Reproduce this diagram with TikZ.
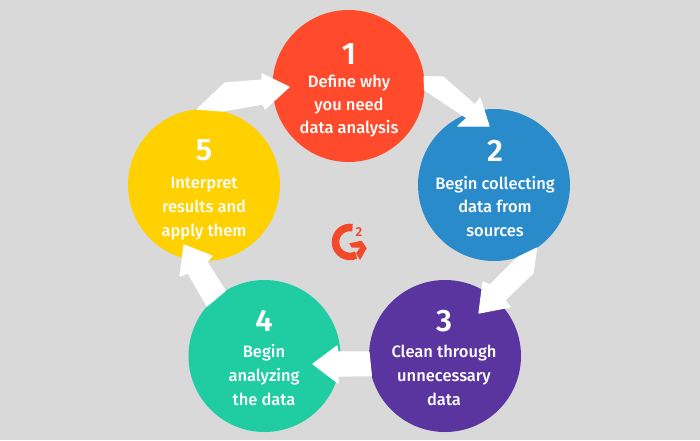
\documentclass[tikz,border=0pt]{standalone}
\usepackage{fontspec}
\setmainfont{Fira Sans}[UprightFont=* Medium,BoldFont=* SemiBold]
\definecolor{bg}{HTML}{D9D9D9}
\definecolor{cA}{HTML}{FF4B2B}
\definecolor{cB}{HTML}{2A8BCB}
\definecolor{cC}{HTML}{5A35A0}
\definecolor{cD}{HTML}{20CDA3}
\definecolor{cE}{HTML}{FFD100}
\definecolor{logo}{HTML}{F2492B}
\tikzset{
  disc/.style={circle,minimum size=152pt,inner sep=0pt,fill=#1},
  num/.style={anchor=base,text=white,font=\fontsize{31}{31}\selectfont\bfseries,inner sep=0pt},
  lbl/.style={anchor=base,text=white,font=\fontsize{16.5}{16.5}\selectfont,inner sep=0pt},
  blockarrow/.style={fill=white,line join=round,draw=white,line width=1.2pt}
}
\begin{document}
\begin{tikzpicture}[x=1pt,y=-1pt]
\path[use as bounding box,fill=bg] (0,0) rectangle (700,440);
\node[disc=cA] (c1) at (348.5,86) {};
\node[disc=cB] (c2) at (494,185) {};
\node[disc=cC] (c3) at (445,356) {};
\node[disc=cD] (c4) at (264.5,356) {};
\node[disc=cE] (c5) at (204,185) {};
% tips
\coordinate (tip1) at (289,87);
\coordinate (tip2) at (489,126);
\coordinate (tip3) at (479,313);
\coordinate (tip4) at (313,364);
\coordinate (tip5) at (184,245);
% block arrows: tail on the source circle, tip at a named coordinate
\draw[blockarrow] (c5.95) -- (225,83) -- (262,80) -- (262,74) -- (tip1) -- (265,109) -- (263,104) -- (c5.76) -- cycle;
\draw[blockarrow] (c1.7) -- (443,77) -- (475,105) -- (480,98) -- (tip2) -- (458,126) -- (467,118) -- (c1.-3) -- cycle;
\draw[blockarrow] (c2.-56) -- (533,273) -- (505,300) -- (510,307) -- (tip3) -- (483,282) -- (490,285) -- (c2.-72) -- cycle;
\draw[blockarrow] (c3.177) -- (c3.195) -- (338,376) -- (338,383) -- (tip4) -- (337,346) -- (338,352) -- cycle;
\draw[blockarrow] (c4.121.5) -- (c4.139) -- (188,273) -- (180,276) -- (tip5) -- (212,256) -- (207,262) -- cycle;
% labels
\node[num] (n1) at (349,64) {1};
\node[lbl] (a1) at (349,87) {Define why};
\node[lbl] (a2) at (349,110) {you need};
\node[lbl] (a3) at (349,133) {data analysis};
\node[num] (n2) at (495,161) {2};
\node[lbl] (b1) at (495,189) {Begin collecting};
\node[lbl] (b2) at (495,212) {data from};
\node[lbl] (b3) at (495,236) {sources};
\node[num] (n3) at (444,331) {3};
\node[lbl] (d1) at (444,357) {Clean through};
\node[lbl] (d2) at (444,381) {unnecessary};
\node[lbl] (d3) at (444,405) {data};
\node[num] (n4) at (264,331) {4};
\node[lbl] (e1) at (264,357) {Begin};
\node[lbl] (e2) at (264,381) {analyzing};
\node[lbl] (e3) at (264,405) {the data};
\node[num] (n5) at (204,160) {5};
\node[lbl] (f1) at (204,188) {Interpret};
\node[lbl] (f2) at (204,212) {results and};
\node[lbl] (f3) at (204,236) {apply them};
% logo
\draw[logo,line width=7.5pt] (352.5,227.7) arc[start angle=-80,end angle=-295,radius=14.5];
\fill[logo] (349.3,243.3) -- (361.7,240.7) -- (366.7,248.3) -- (360,260) -- (356,253.3) -- (360,247.7) -- (351.7,247.7) -- cycle;
\node[anchor=base,text=logo,font=\fontsize{13}{13}\selectfont\bfseries,inner sep=0pt] (g2) at (359,236.5) {2};
\end{tikzpicture}
\end{document}
